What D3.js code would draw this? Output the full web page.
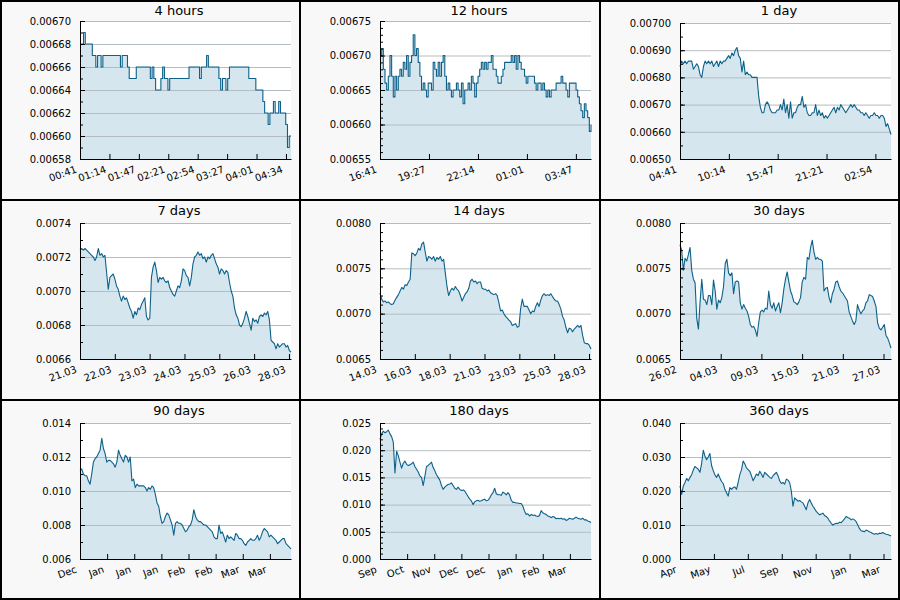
<!DOCTYPE html>
<html>
<head>
<meta charset="utf-8">
<script src="https://cdn.jsdelivr.net/npm/d3@7"></script>
<style>
body { margin: 0; background: #fff; }
svg { display: block; font-family: "DejaVu Sans", sans-serif; }
</style>
</head>
<body>
<div id="chart"></div>
<script>
// panel titles and time spans (hours)
var titles = ["4 hours", "12 hours", "1 day", "7 days", "14 days", "30 days", "90 days", "180 days", "360 days"];
var spanHours = [4, 12, 24, 168, 336, 720, 2160, 4320, 8640];
var tickStepHours = [0.5578, 2.785, 5.556, 27.73, 55.47, 138.9, 277.7, 555.4, 1389];

var xLabels = [
    ["00:41", "01:14", "01:47", "02:21", "02:54", "03:27", "04:01", "04:34"],
    ["16:41", "19:27", "22:14", "01:01", "03:47"],
    ["04:41", "10:14", "15:47", "21:21", "02:54"],
    ["21.03", "22.03", "23.03", "24.03", "25.03", "26.03", "28.03"],
    ["14.03", "16.03", "18.03", "21.03", "23.03", "25.03", "28.03"],
    ["26.02", "04.03", "09.03", "15.03", "21.03", "27.03"],
    ["Dec", "Jan", "Jan", "Jan", "Feb", "Feb", "Mar", "Mar"],
    ["Sep", "Oct", "Nov", "Dec", "Dec", "Jan", "Feb", "Mar"],
    ["Apr", "May", "Jul", "Sep", "Nov", "Jan", "Mar"]
];

var yTicks = [
    [0.00658, 0.00660, 0.00662, 0.00664, 0.00666, 0.00668, 0.00670],
    [0.00655, 0.00660, 0.00665, 0.00670, 0.00675],
    [0.00650, 0.00660, 0.00670, 0.00680, 0.00690, 0.00700],
    [0.0066, 0.0068, 0.0070, 0.0072, 0.0074],
    [0.0065, 0.0070, 0.0075, 0.0080],
    [0.0065, 0.0070, 0.0075, 0.0080],
    [0.006, 0.008, 0.010, 0.012, 0.014],
    [0.000, 0.005, 0.010, 0.015, 0.020, 0.025],
    [0.000, 0.010, 0.020, 0.030, 0.040]
];
var yMinorStep = [0.00001, 0.00001, 0.00005, 0.0001, 0.0001, 0.0001, 0.001, 0.001, 0.005];
var yFormat = [".5f", ".5f", ".5f", ".4f", ".4f", ".4f", ".3f", ".3f", ".3f"];

var rate4h = [
    .00668,.00668,.00669,.00668,.00668,.00668,.00668,.00667,.00667,.00666,
    .00667,.00667,.00666,.00667,.00667,.00667,.00667,.00667,.00667,.00667,
    .00667,.00667,.00667,.00666,.00667,.00667,.00667,.00666,.00665,.00665,
    .00665,.00665,.00666,.00666,.00666,.00666,.00666,.00666,.00666,.00666,
    .00665,.00666,.00665,.00664,.00664,.00664,.00665,.00666,.00665,.00665,
    .00664,.00665,.00665,.00665,.00665,.00665,.00665,.00665,.00665,.00665,
    .00665,.00665,.00666,.00666,.00666,.00666,.00666,.00666,.00665,.00666,
    .00666,.00666,.00667,.00666,.00666,.00666,.00666,.00666,.00666,.00665,
    .00664,.00665,.00665,.00664,.00665,.00666,.00666,.00666,.00666,.00666,
    .00666,.00666,.00666,.00666,.00666,.00666,.00665,.00665,.00665,.00665,
    .00664,.00664,.00664,.00664,.00663,.00662,.00662,.00661,.00662,.00662,
    .00663,.00662,.00662,.00663,.00662,.00662,.00662,.00661,.00659,.00660,
    .00660
];

var rate12h = [
    .00670,.00671,.00668,.00666,.00665,.00667,.00670,.00667,.00664,.00667,
    .00665,.00667,.00668,.00667,.00669,.00668,.00670,.00667,.00669,.00670,
    .00673,.00670,.00671,.00669,.00667,.00665,.00666,.00665,.00664,.00666,
    .00666,.00665,.00669,.00668,.00667,.00669,.00667,.00669,.00670,.00667,
    .00665,.00666,.00665,.00664,.00665,.00665,.00666,.00665,.00664,.00666,
    .00663,.00665,.00665,.00666,.00665,.00667,.00666,.00664,.00666,.00667,
    .00668,.00669,.00668,.00669,.00668,.00669,.00669,.00670,.00668,.00668,
    .00667,.00666,.00666,.00667,.00668,.00669,.00669,.00669,.00669,.00670,
    .00669,.00670,.00668,.00670,.00669,.00668,.00668,.00667,.00666,.00667,
    .00667,.00667,.00667,.00666,.00665,.00666,.00666,.00665,.00666,.00665,
    .00664,.00665,.00664,.00665,.00665,.00665,.00666,.00666,.00666,.00667,
    .00666,.00666,.00665,.00664,.00666,.00666,.00666,.00666,.00665,.00664,
    .00663,.00662,.00661,.00663,.00662,.00661,.00659,.00660
];

var rate1d = [
    .00684,.00686,.00685,.00686,.00685,.00686,.00686,.00686,.00683,.00684,
    .00685,.00684,.00681,.00680,.00684,.00686,.00685,.00686,.00685,.00686,
    .00684,.00685,.00686,.00684,.00686,.00685,.00686,.00686,.00687,.00688,
    .00687,.00689,.00688,.00690,.00691,.00688,.00687,.00682,.00686,.00681,
    .00682,.00681,.00681,.00680,.00680,.00680,.00680,.00673,.00669,.00667,
    .00667,.00670,.00671,.00670,.00668,.00667,.00667,.00667,.00668,.00668,
    .00670,.00668,.00672,.00667,.00670,.00665,.00671,.00665,.00667,.00667,
    .00669,.00670,.00670,.00673,.00669,.00670,.00667,.00666,.00666,.00667,
    .00667,.00670,.00666,.00668,.00666,.00667,.00665,.00666,.00665,.00666,
    .00667,.00668,.00669,.00667,.00669,.00668,.00670,.00669,.00668,.00667,
    .00668,.00669,.00670,.00669,.00670,.00669,.00668,.00668,.00667,.00667,
    .00666,.00667,.00666,.00665,.00666,.00666,.00667,.00666,.00666,.00665,
    .00666,.00666,.00665,.00662,.00663,.00661,.00659
];

var rate7d = [
    .00724,.00725,.00724,.00725,.00724,.00723,.00722,.00721,.00720,.00718,
    .00720,.00725,.00721,.00722,.00720,.00721,.00711,.00701,.00708,.00709,
    .00710,.00707,.00703,.00701,.00697,.00694,.00697,.00695,.00696,.00693,
    .00690,.00688,.00684,.00688,.00686,.00690,.00689,.00692,.00694,.00696,
    .00685,.00683,.00684,.00708,.00714,.00717,.00712,.00705,.00708,.00707,
    .00708,.00706,.00705,.00706,.00702,.00700,.00698,.00697,.00700,.00703,
    .00702,.00706,.00713,.00712,.00709,.00708,.00703,.00708,.00716,.00720,
    .00721,.00723,.00721,.00722,.00719,.00720,.00717,.00720,.00719,.00721,
    .00722,.00719,.00716,.00714,.00710,.00713,.00712,.00710,.00712,.00711,
    .00705,.00700,.00697,.00690,.00686,.00684,.00680,.00679,.00681,.00684,
    .00688,.00685,.00681,.00677,.00684,.00682,.00683,.00681,.00685,.00686,
    .00685,.00687,.00686,.00688,.00683,.00671,.00670,.00669,.00666,.00669,
    .00667,.00668,.00669,.00669,.00667,.00668,.00665,.00664
];

var rate14d = [
    .00723,.00716,.00713,.00714,.00712,.00713,.00711,.00710,.00711,.00715,
    .00718,.00721,.00725,.00729,.00727,.00732,.00731,.00735,.00738,.00767,
    .00766,.00764,.00767,.00772,.00770,.00777,.00779,.00768,.00758,.00763,
    .00762,.00760,.00763,.00758,.00762,.00760,.00763,.00758,.00760,.00745,
    .00730,.00720,.00725,.00728,.00726,.00730,.00727,.00725,.00720,.00714,
    .00718,.00722,.00724,.00728,.00736,.00738,.00735,.00736,.00733,.00735,
    .00735,.00728,.00727,.00727,.00725,.00726,.00723,.00722,.00721,.00722,
    .00720,.00712,.00703,.00704,.00700,.00697,.00695,.00693,.00691,.00687,
    .00688,.00689,.00685,.00686,.00706,.00716,.00708,.00708,.00708,.00704,
    .00700,.00703,.00702,.00708,.00712,.00708,.00715,.00720,.00722,.00720,
    .00721,.00720,.00722,.00719,.00716,.00714,.00714,.00710,.00705,.00697,
    .00693,.00685,.00679,.00684,.00683,.00680,.00683,.00685,.00687,.00685,
    .00687,.00676,.00668,.00667,.00667,.00665,.00661
];

var rate30d = [
    .00776,.00770,.00748,.00761,.00758,.00765,.00773,.00748,.00738,.00734,
    .00695,.00683,.00713,.00738,.00716,.00715,.00710,.00720,.00720,.00710,
    .00737,.00725,.00705,.00715,.00712,.00718,.00730,.00755,.00760,.00745,
    .00742,.00745,.00722,.00735,.00736,.00735,.00712,.00705,.00710,.00706,
    .00703,.00697,.00688,.00685,.00686,.00682,.00675,.00690,.00702,.00704,
    .00702,.00706,.00705,.00725,.00710,.00706,.00712,.00703,.00708,.00712,
    .00701,.00712,.00727,.00738,.00746,.00735,.00725,.00720,.00713,.00712,
    .00710,.00713,.00718,.00735,.00740,.00738,.00762,.00760,.00773,.00781,
    .00768,.00760,.00762,.00760,.00760,.00758,.00725,.00728,.00729,.00718,
    .00712,.00722,.00727,.00735,.00736,.00730,.00725,.00723,.00720,.00717,
    .00714,.00702,.00697,.00692,.00688,.00692,.00710,.00704,.00700,.00703,
    .00705,.00712,.00714,.00721,.00720,.00719,.00714,.00708,.00690,.00684,
    .00682,.00685,.00688,.00676,.00673,.00668,.00662
];

var rate90d = [
    .0112,.0113,.0110,.0109,.0109,.0106,.0104,.0110,.0117,.0119,
    .0120,.0122,.0124,.0131,.0125,.0122,.0117,.0118,.0118,.0117,
    .0116,.0114,.0117,.0124,.0121,.0119,.0117,.0121,.0120,.0117,
    .0120,.0106,.0107,.0102,.0104,.0103,.0103,.0103,.0103,.0102,
    .0100,.0102,.0101,.0103,.0102,.0098,.0093,.0091,.0085,.0081,
    .0082,.0085,.0087,.0086,.0083,.0080,.0074,.0081,.0082,.0081,
    .0081,.0080,.0078,.0076,.0077,.0079,.0080,.0083,.0089,.0085,
    .0083,.0082,.0082,.0081,.0080,.0080,.0079,.0078,.0077,.0076,
    .0073,.0072,.0072,.0080,.0075,.0076,.0073,.0070,.0074,.0072,
    .0073,.0072,.0071,.0075,.0074,.0072,.0072,.0071,.0069,.0068,
    .0070,.0071,.0072,.0071,.0071,.0072,.0074,.0071,.0073,.0076,
    .0078,.0077,.0076,.0073,.0074,.0073,.0072,.0071,.0069,.0070,
    .0071,.0072,.0072,.0069,.0068,.0067,.0066
];

var rate180d = [
    .0220,.0230,.0235,.0232,.0234,.0237,.0230,.0225,.0215,.0158,
    .0198,.0190,.0178,.0167,.0176,.0180,.0174,.0172,.0173,.0175,
    .0178,.0170,.0165,.0160,.0153,.0150,.0135,.0152,.0170,.0172,
    .0175,.0178,.0168,.0162,.0155,.0150,.0145,.0135,.0128,.0132,
    .0135,.0137,.0138,.0140,.0135,.0130,.0128,.0132,.0128,.0126,
    .0127,.0125,.0120,.0115,.0110,.0107,.0100,.0105,.0107,.0108,
    .0106,.0107,.0109,.0110,.0107,.0108,.0112,.0118,.0122,.0130,
    .0120,.0118,.0118,.0117,.0123,.0121,.0118,.0122,.0118,.0108,
    .0104,.0104,.0103,.0103,.0102,.0102,.0097,.0088,.0082,.0083,
    .0079,.0082,.0080,.0081,.0079,.0078,.0080,.0089,.0085,.0083,
    .0082,.0079,.0078,.0076,.0078,.0077,.0074,.0075,.0074,.0075,
    .0073,.0074,.0071,.0072,.0075,.0074,.0073,.0075,.0077,.0075,
    .0074,.0073,.0075,.0072,.0072,.0070,.0069,.0067
];

var rate360d = [
    .0215,.0190,.0215,.0225,.0237,.0230,.0240,.0248,.0262,.0272,
    .0268,.0264,.0255,.0280,.0320,.0303,.0292,.0300,.0310,.0275,
    .0260,.0248,.0240,.0250,.0238,.0228,.0222,.0205,.0195,.0185,
    .0210,.0205,.0210,.0212,.0205,.0225,.0248,.0262,.0288,.0280,
    .0268,.0263,.0258,.0245,.0230,.0240,.0250,.0245,.0258,.0250,
    .0240,.0255,.0250,.0245,.0240,.0237,.0245,.0250,.0255,.0245,
    .0230,.0222,.0225,.0220,.0235,.0232,.0225,.0200,.0155,.0180,
    .0175,.0170,.0172,.0168,.0165,.0155,.0145,.0165,.0175,.0165,
    .0155,.0148,.0140,.0135,.0130,.0132,.0135,.0128,.0125,.0120,
    .0112,.0105,.0100,.0103,.0105,.0104,.0108,.0107,.0112,.0118,
    .0125,.0122,.0120,.0115,.0118,.0115,.0110,.0100,.0090,.0083,
    .0082,.0080,.0085,.0083,.0080,.0078,.0075,.0073,.0075,.0073,
    .0076,.0075,.0078,.0075,.0073,.0072,.0070,.0068
];

var series = [rate4h, rate12h, rate1d, rate7d, rate14d, rate30d, rate90d, rate180d, rate360d];
var stepped = [true, true, false, false, false, false, false, false, false];

var pw = 300, ph = 200,
    left = 80, right = 291, bottom = 159;

var svg = d3.select("#chart")
    .append("svg")
    .attr("width", pw * 3)
    .attr("height", ph * 3);

titles.forEach(function (title, i) {
    var col = i % 3, row = Math.floor(i / 3);
    var top = i < 2 ? 21 : 23;
    var data = series[i];
    var ticks = yTicks[i];
    var y0 = ticks[0], y1 = ticks[ticks.length - 1];

    var g = svg.append("g")
        .attr("transform", "translate(" + col * pw + "," + row * ph + ")");

    g.append("rect")
        .attr("width", pw)
        .attr("height", ph)
        .attr("fill", "#f8f8f8");

    g.append("rect")
        .attr("x", left)
        .attr("y", top)
        .attr("width", right - left)
        .attr("height", bottom - top)
        .attr("fill", "#fff");

    var x = d3.scaleLinear()
        .domain([0, spanHours[i]])
        .range([left, right]);

    var y = d3.scaleLinear()
        .domain([y0, y1])
        .range([bottom, top]);

    var xi = function (d, j) { return x(j / (data.length - 1) * spanHours[i]); };
    var curve = stepped[i] ? d3.curveStepAfter : d3.curveLinear;

    var area = d3.area()
        .curve(curve)
        .x(xi)
        .y0(y(y0))
        .y1(function (d) { return y(d); });

    var line = d3.line()
        .curve(curve)
        .x(xi)
        .y(function (d) { return y(d); });

    g.append("path")
        .datum(data)
        .attr("fill", "#d5e6ee")
        .attr("stroke", "none")
        .attr("d", area);

    // grid
    g.append("g")
        .attr("transform", "translate(" + left + ",0)")
        .call(d3.axisLeft(y).tickValues(ticks).tickSize(-(right - left)).tickFormat(""))
        .call(function (s) {
            s.select(".domain").remove();
            s.selectAll("line").attr("stroke", "#b5bdc2");
        });

    g.append("path")
        .datum(data)
        .attr("fill", "none")
        .attr("stroke", "#0d6189")
        .attr("stroke-width", 1.1)
        .attr("stroke-linejoin", "round")
        .attr("d", line);

    // minor y ticks
    var nMinor = Math.round((y1 - y0) / yMinorStep[i]);
    var minor = d3.range(nMinor + 1).map(function (k) { return y0 + k * yMinorStep[i]; });
    g.append("g")
        .attr("transform", "translate(" + left + ",0)")
        .call(d3.axisLeft(y).tickValues(minor).tickSize(-3).tickFormat(""))
        .call(function (s) {
            s.select(".domain").remove();
            s.selectAll("line").attr("stroke", "#000");
        });

    // y axis
    g.append("g")
        .attr("transform", "translate(" + left + ",0)")
        .call(d3.axisLeft(y).tickValues(ticks).tickSize(-5).tickSizeOuter(0)
            .tickPadding(9).tickFormat(d3.format(yFormat[i])))
        .call(function (s) {
            s.attr("font-family", "DejaVu Sans").attr("font-size", 10);
            s.selectAll("text").attr("fill", "#000");
        });

    // x axis
    var xt = xLabels[i].map(function (d, k) { return k * tickStepHours[i]; });
    g.append("g")
        .attr("transform", "translate(0," + bottom + ")")
        .call(d3.axisBottom(x).tickValues(xt).tickSize(-5).tickSizeOuter(0)
            .tickFormat(function (d, k) { return xLabels[i][k]; }))
        .call(function (s) {
            s.attr("font-family", "DejaVu Sans").attr("font-size", 10);
            s.selectAll("text")
                .attr("fill", "#000")
                .attr("y", 0)
                .attr("dy", 0)
                .attr("text-anchor", "end")
                .attr("transform", "translate(-3,13) rotate(-20)");
        });

    g.append("text")
        .attr("x", 179)
        .attr("y", 15)
        .attr("text-anchor", "middle")
        .attr("font-size", 13)
        .attr("fill", "#000")
        .text(title);
});

// panel borders
svg.append("rect")
    .attr("width", pw * 3)
    .attr("height", ph * 3)
    .attr("fill", "none")
    .attr("stroke", "#000")
    .attr("stroke-width", 4);

[1, 2].forEach(function (k) {
    svg.append("line")
        .attr("x1", k * pw).attr("x2", k * pw)
        .attr("y1", 0).attr("y2", ph * 3)
        .attr("stroke", "#000").attr("stroke-width", 2);
    svg.append("line")
        .attr("x1", 0).attr("x2", pw * 3)
        .attr("y1", k * ph).attr("y2", k * ph)
        .attr("stroke", "#000").attr("stroke-width", 2);
});
</script>
</body>
</html>
